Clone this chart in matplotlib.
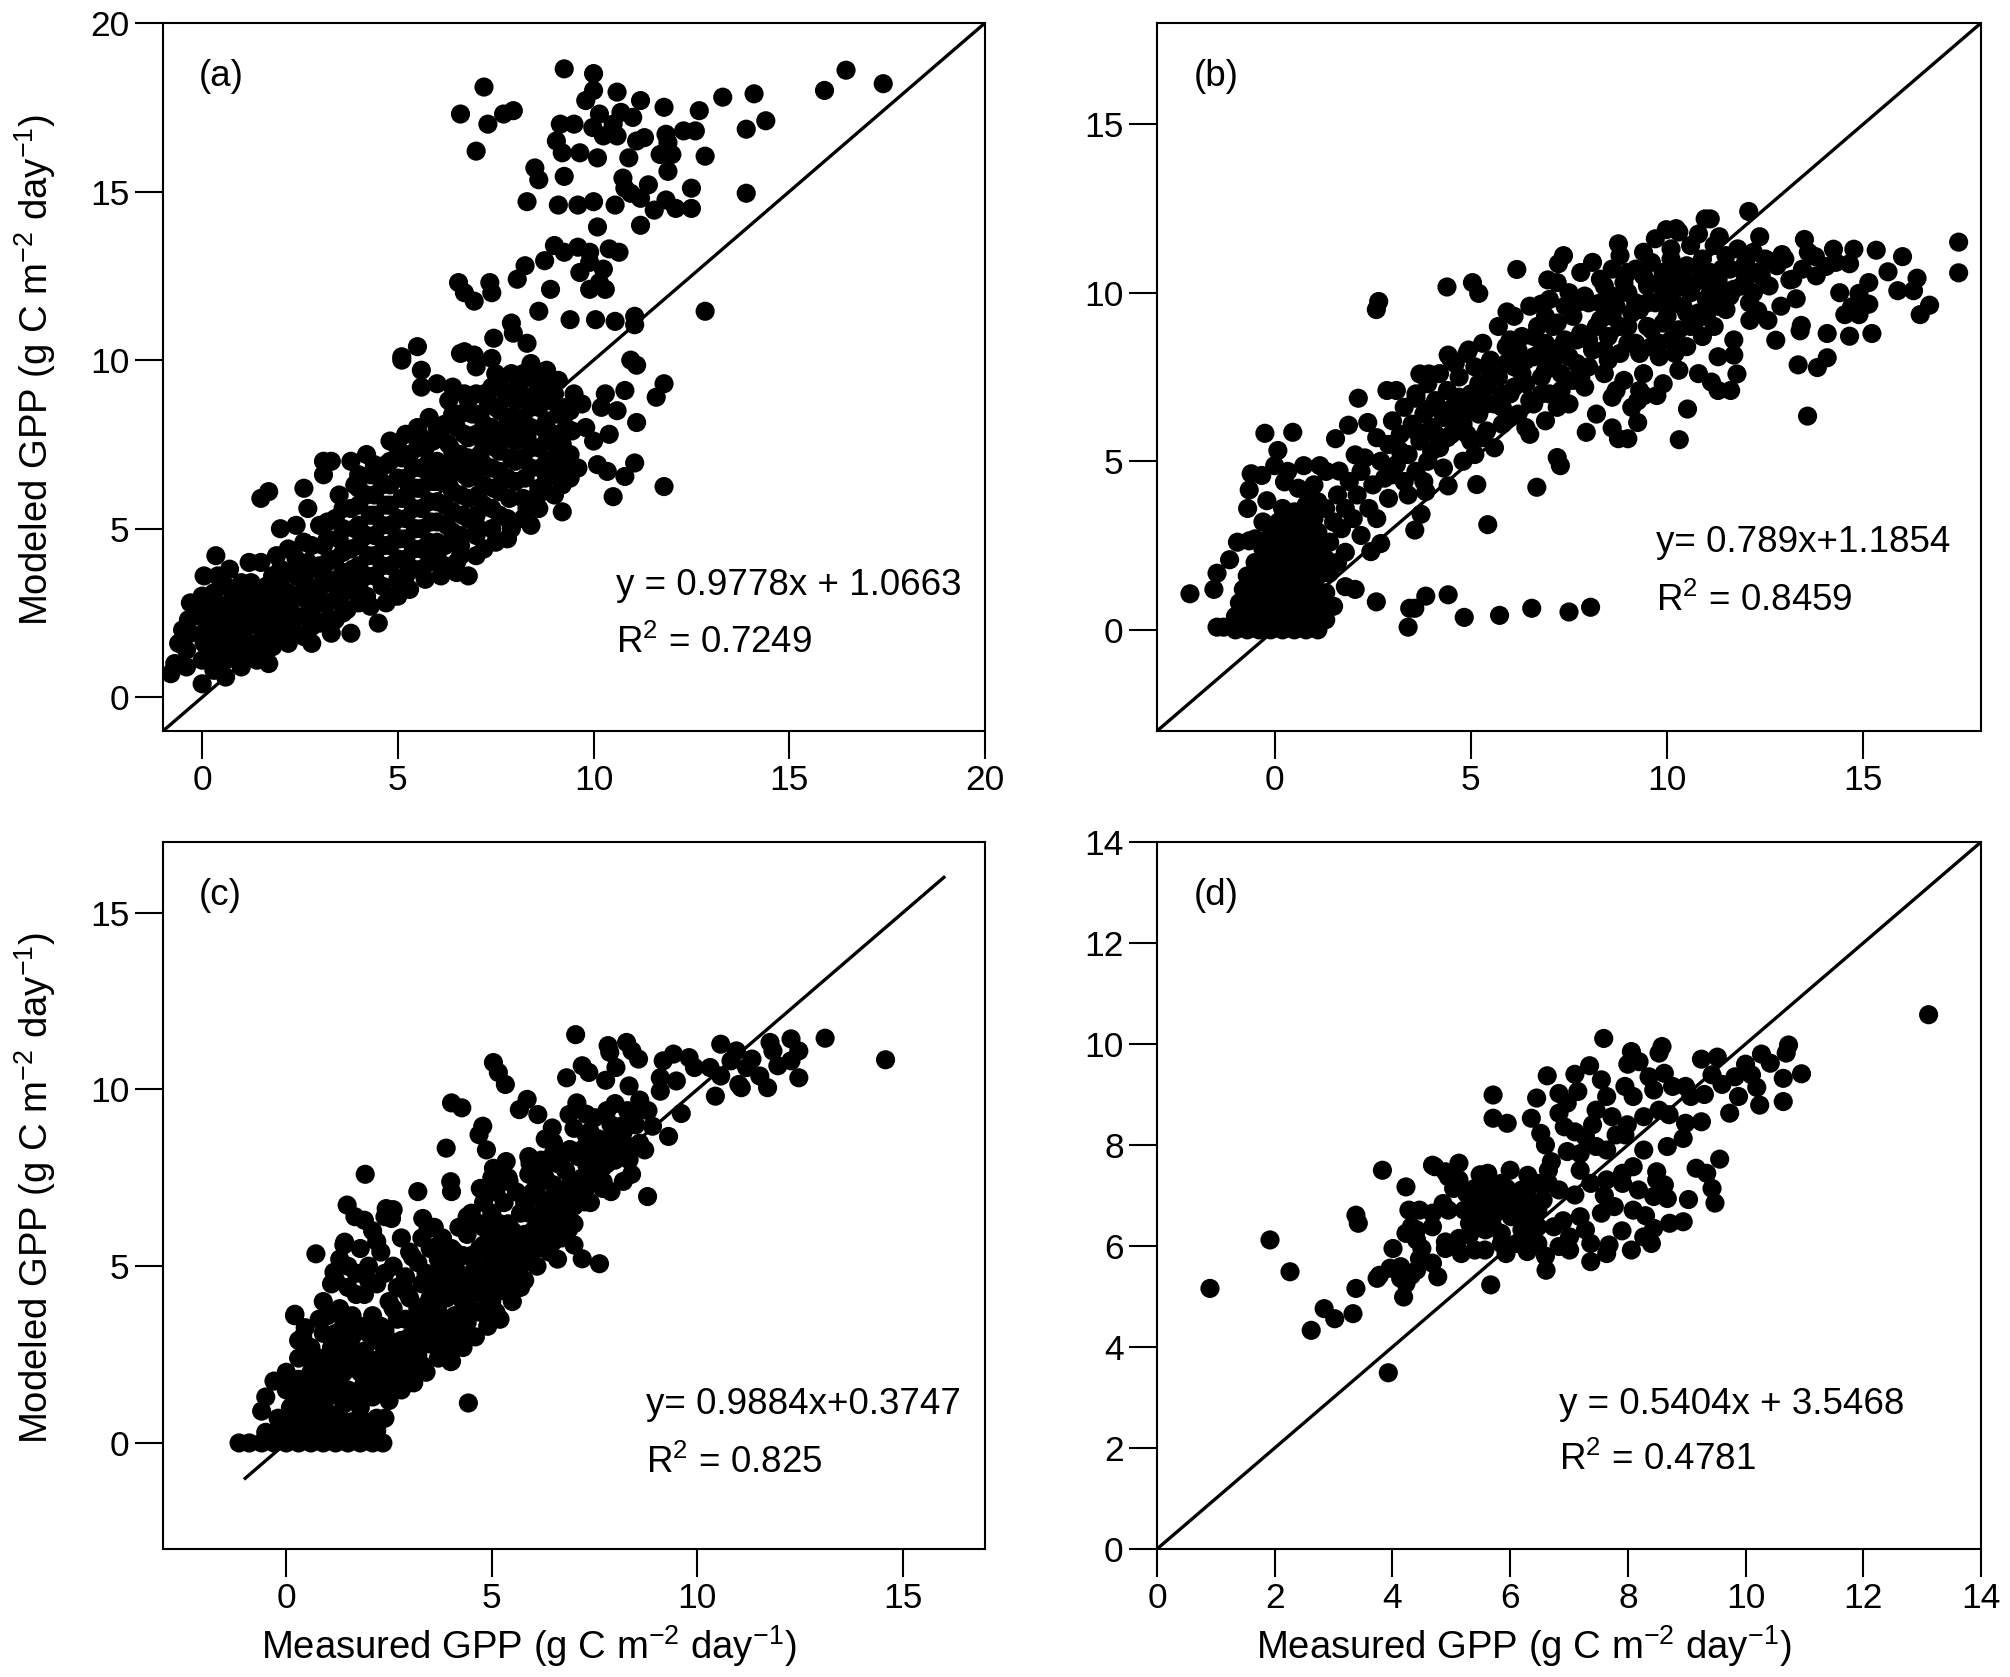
import numpy as np
import matplotlib
matplotlib.use("Agg")
from matplotlib import pyplot as plt

plt.rcParams['font.family'] = ['Liberation Sans', 'DejaVu Sans']
plt.rcParams['mathtext.fontset'] = 'custom'
plt.rcParams['mathtext.rm'] = 'Liberation Sans'
plt.rcParams['mathtext.it'] = 'Liberation Sans:italic'
plt.rcParams['mathtext.bf'] = 'Liberation Sans:bold'

# ---- panel (a): measured vs modeled GPP ----
pts_a = [
    # upper scatter
    (9.25, 18.64), (10.0, 18.5), (7.2, 18.1), (16.45, 18.6), (15.9, 18.0), (17.4, 18.2),
    (13.3, 17.8), (14.1, 17.9), (14.4, 17.1), (13.9, 16.85), (13.9, 14.95), (12.85, 11.45),
    (6.6, 17.3), (7.7, 17.3), (7.95, 17.4), (7.3, 17.0), (7.0, 16.2), (10.0, 18.0),
    (10.6, 17.95), (9.8, 17.7), (11.2, 17.7), (9.15, 17.0), (9.5, 17.0), (10.15, 17.3),
    (10.7, 17.35), (10.5, 17.0), (11.0, 17.2), (11.8, 17.5), (12.7, 17.4), (9.05, 16.5),
    (9.2, 16.15), (9.65, 16.15), (9.98, 16.9), (10.25, 16.65), (10.6, 16.65), (10.1, 16.0),
    (10.9, 16.0), (11.1, 16.5), (11.3, 16.6), (11.85, 16.7), (11.9, 16.45), (12.0, 16.1),
    (11.7, 16.1), (12.3, 16.8), (12.6, 16.8), (12.85, 16.05), (8.5, 15.7), (8.6, 15.35),
    (9.25, 15.45), (10.75, 15.4), (10.8, 15.1), (11.4, 15.2), (11.9, 15.6), (12.5, 15.1),
    (8.3, 14.7), (9.1, 14.6), (9.6, 14.6), (10.0, 14.7), (10.55, 14.6), (10.95, 14.95),
    (11.2, 14.8), (11.55, 14.45), (11.85, 14.75), (12.1, 14.5), (12.5, 14.5), (11.2, 14.0),
    (10.1, 13.95), (9.0, 13.4), (9.25, 13.2), (9.6, 13.35), (9.9, 13.2), (10.4, 13.3),
    (10.65, 13.2), (9.9, 12.9), (10.25, 12.7), (9.65, 12.6), (8.75, 12.95), (8.25, 12.8),
    (8.05, 12.4), (10.15, 12.3), (9.9, 12.1), (10.3, 12.1), (8.9, 12.1), (6.55, 12.3),
    (6.7, 12.0), (6.95, 11.75), (7.35, 12.3), (7.4, 12.0), (8.6, 11.45), (9.4, 11.2),
    (10.05, 11.2), (10.55, 11.15), (11.05, 11.3), (11.05, 11.05), (7.45, 10.65), (7.9, 11.1),
    (7.95, 10.8), (8.3, 10.5), (10.95, 10.0), (11.1, 9.85), (5.5, 10.4), (5.1, 10.1),
    (5.6, 9.7), (6.7, 10.25), (6.95, 10.15), (7.4, 10.05), (11.8, 9.3), (11.6, 8.9),
    (11.1, 8.15), (11.05, 6.95), (11.8, 6.25), (10.5, 5.95), (10.35, 6.7), (10.8, 6.55),
    (9.2, 5.5),
    # main band
    (-0.8, 0.7), (-0.7, 1.0), (-0.6, 1.6), (-0.5, 2.0), (-0.4, 0.9), (-0.4, 1.4),
    (-0.35, 2.3), (-0.3, 2.8), (-0.3, 1.9), (0.0, 0.4), (0.0, 1.1), (0.05, 1.6),
    (-0.05, 2.4), (0.0, 3.0), (0.05, 3.6), (0.1, 2.0), (0.3, 0.8), (0.3, 1.3),
    (0.35, 1.9), (0.3, 2.5), (0.3, 3.1), (0.35, 4.2), (0.4, 3.6), (0.6, 0.6),
    (0.6, 1.1), (0.65, 1.6), (0.6, 2.2), (0.7, 2.8), (0.6, 3.3), (0.7, 3.8),
    (1.0, 0.9), (1.0, 1.4), (1.05, 1.9), (1.0, 2.4), (1.1, 2.9), (1.0, 3.4),
    (1.2, 4.0), (1.4, 1.1), (1.4, 1.6), (1.45, 2.1), (1.4, 2.6), (1.5, 3.1),
    (1.5, 4.0), (1.5, 5.9), (1.7, 6.1), (1.7, 1.0), (1.8, 1.5), (1.85, 2.0),
    (1.8, 2.5), (1.9, 3.0), (1.8, 3.6), (1.9, 4.2), (2.0, 5.0), (2.2, 1.6),
    (2.2, 2.1), (2.25, 2.6), (2.2, 3.1), (2.3, 3.7), (2.2, 4.4), (2.4, 5.1),
    (2.6, 1.8), (2.6, 2.4), (2.65, 2.9), (2.6, 3.4), (2.7, 4.0), (2.6, 4.6),
    (2.6, 6.2), (2.7, 5.6), (2.8, 1.6), (3.0, 2.2), (3.0, 2.8), (3.05, 3.3),
    (3.0, 3.9), (3.1, 4.5), (3.0, 5.1), (3.1, 7.0), (3.3, 7.0), (3.1, 6.6),
    (3.4, 2.3), (3.4, 2.9), (3.45, 3.5), (3.4, 4.1), (3.5, 4.7), (3.4, 5.3),
    (3.5, 6.0), (3.3, 1.9), (3.7, 2.6), (3.8, 3.2), (3.85, 3.8), (3.8, 4.4),
    (3.9, 5.0), (3.8, 5.6), (3.9, 6.3), (3.8, 7.0), (3.8, 1.9), (4.2, 3.0),
    (4.2, 3.6), (4.25, 4.2), (4.2, 4.8), (4.3, 5.4), (4.2, 6.0), (4.3, 6.6),
    (4.2, 7.2), (4.5, 2.2), (4.3, 2.7), (4.6, 3.3), (4.6, 3.9), (4.65, 4.5),
    (4.6, 5.1), (4.7, 5.7), (4.6, 6.3), (4.7, 6.9), (4.8, 7.6), (4.7, 2.8),
    (5.0, 3.5), (5.0, 4.1), (5.05, 4.7), (5.0, 5.3), (5.1, 5.9), (5.0, 6.5),
    (5.1, 7.1), (5.2, 7.8), (5.1, 10.0), (5.0, 3.0), (5.4, 3.8), (5.4, 4.4),
    (5.45, 5.0), (5.4, 5.6), (5.5, 6.2), (5.4, 6.8), (5.5, 7.4), (5.5, 8.0),
    (5.6, 9.2), (5.8, 4.0), (5.8, 4.6), (5.85, 5.2), (5.8, 5.8), (5.9, 6.4),
    (5.8, 7.0), (5.9, 7.6), (5.8, 8.3), (6.0, 9.3), (6.2, 3.9), (6.2, 4.5),
    (6.25, 5.1), (6.2, 5.7), (6.3, 6.3), (6.2, 6.9), (6.3, 7.5), (6.2, 8.1),
    (6.3, 8.8), (6.4, 9.2), (6.6, 4.2), (6.6, 4.8), (6.65, 5.4), (6.6, 6.0),
    (6.7, 6.6), (6.6, 7.2), (6.7, 7.8), (6.6, 8.4), (6.7, 9.0), (6.6, 10.2),
    (6.8, 3.6), (6.5, 4.0), (7.0, 4.8), (7.0, 5.4), (7.05, 6.0), (7.0, 6.6),
    (7.1, 7.2), (7.0, 7.8), (7.1, 8.4), (7.0, 9.0), (7.0, 9.8), (7.2, 4.4),
    (7.4, 5.0), (7.4, 5.6), (7.45, 6.2), (7.4, 6.8), (7.5, 7.4), (7.4, 8.0),
    (7.5, 8.6), (7.4, 9.2), (7.5, 9.6), (7.8, 4.7), (7.8, 5.3), (7.85, 5.9),
    (7.8, 6.5), (7.9, 7.1), (7.8, 7.7), (7.9, 8.3), (7.8, 8.9), (7.9, 9.6),
    (8.2, 5.3), (8.2, 5.9), (8.25, 6.5), (8.2, 7.1), (8.3, 7.7), (8.2, 8.3),
    (8.3, 8.9), (8.4, 9.9), (8.4, 5.1), (8.6, 5.6), (8.6, 6.2), (8.65, 6.8),
    (8.6, 7.4), (8.7, 8.0), (8.6, 8.6), (8.7, 9.2), (8.8, 9.7), (9.0, 6.0),
    (9.0, 6.6), (9.05, 7.2), (9.0, 7.8), (9.1, 8.4), (9.0, 9.0), (9.2, 6.3),
    (9.1, 9.4), (9.4, 6.5), (9.4, 7.2), (9.45, 7.9), (9.4, 8.5), (9.5, 9.0),
    (9.8, 8.0), (10.0, 7.6), (10.2, 8.6), (10.3, 9.0), (10.1, 6.9), (10.6, 8.5),
    (10.8, 9.1), (9.7, 8.7), (10.4, 7.8), (9.6, 6.8),
    # solid core of the band
    (4.0, 3.3), (4.0, 3.9), (4.0, 4.5), (4.0, 5.1), (4.0, 5.7), (4.4, 3.6), (4.4, 4.2),
    (4.4, 4.8), (4.4, 5.4), (4.4, 6.0), (4.8, 3.9), (4.8, 4.5), (4.8, 5.1), (4.8, 5.7),
    (4.8, 6.3), (5.2, 4.1), (5.2, 4.7), (5.2, 5.3), (5.2, 5.9), (5.2, 6.5), (5.6, 4.4),
    (5.6, 5.0), (5.6, 5.6), (5.6, 6.2), (5.6, 6.8), (6.0, 4.6), (6.0, 5.2), (6.0, 5.8),
    (6.0, 6.4), (6.0, 7.0), (6.4, 4.9), (6.4, 5.5), (6.4, 6.1), (6.4, 6.7), (6.4, 7.3),
    (6.8, 5.3), (6.8, 5.9), (6.8, 6.5), (6.8, 7.1), (6.8, 7.7), (7.2, 5.7), (7.2, 6.3),
    (7.2, 6.9), (7.2, 7.5), (7.2, 8.1), (7.6, 6.1), (7.6, 6.7), (7.6, 7.3), (7.6, 7.9),
    (7.6, 8.5), (8.0, 6.4), (8.0, 7.0), (8.0, 7.6), (8.0, 8.2), (8.0, 8.8), (8.4, 6.8),
    (8.4, 7.4), (8.4, 8.0), (8.4, 8.6), (8.8, 7.0), (8.8, 7.6), (8.8, 8.2),
    (0.8, 1.3), (0.8, 1.9), (1.2, 1.6), (1.2, 2.2), (1.6, 1.9), (1.6, 2.5), (2.0, 2.2),
    (2.0, 2.8), (2.4, 2.4), (2.4, 3.0), (2.8, 2.6), (2.8, 3.2), (3.2, 2.8), (3.2, 3.4),
    (3.6, 3.1), (3.6, 3.7), (3.6, 4.3), (3.2, 4.0),
    (5.3, 7.2), (5.7, 7.4), (6.1, 7.7), (6.5, 8.0), (6.9, 8.4), (7.3, 8.8), (7.7, 9.1),
    (8.1, 9.3), (8.5, 9.4), (8.9, 8.8), (9.3, 8.0), (9.2, 7.5), (8.8, 6.5), (8.5, 5.9),
    (7.6, 5.4), (7.0, 5.1), (6.6, 4.5), (6.0, 4.2), (5.6, 3.8), (5.2, 3.6), (4.9, 3.0),
    (3.9, 3.5), (3.5, 3.2), (3.1, 3.6), (2.7, 3.3), (2.4, 3.6), (2.0, 3.3), (1.6, 3.0),
    (1.3, 2.9), (0.9, 2.6), (0.5, 2.4), (0.2, 2.2), (0.1, 2.7), (0.4, 1.6), (0.8, 1.6),
    (1.2, 1.3), (1.6, 1.4), (2.8, 4.5), (3.2, 4.7), (3.6, 5.0), (4.0, 6.2), (4.5, 6.6),
    (5.0, 7.4),
    (0.15, 1.3), (0.45, 1.1), (0.45, 2.7), (0.8, 2.2), (0.85, 3.2), (1.2, 2.6), (1.25, 3.4),
    (1.6, 2.2), (1.65, 3.3), (2.0, 1.8), (2.0, 3.8), (2.4, 1.9), (2.4, 4.1), (2.8, 2.1),
    (2.8, 3.8), (3.2, 2.3), (3.2, 5.2), (3.6, 2.5), (3.6, 5.6), (4.0, 2.8), (4.0, 6.6),
    (4.4, 6.9), (4.8, 7.0), (5.3, 3.2), (5.7, 3.5), (6.1, 3.6), (6.5, 3.7), (7.0, 4.2),
    (7.5, 4.6), (7.9, 5.0), (8.3, 5.6), (8.7, 6.1), (9.2, 6.9), (9.3, 8.6), (9.0, 9.4),
    (8.6, 9.0), (8.2, 9.6), (7.6, 9.2), (7.2, 9.0), (6.8, 8.8), (6.4, 8.4), (6.0, 8.0),
    (5.6, 7.7), (5.3, 6.2), (5.8, 6.6), (6.2, 6.6), (6.6, 6.9), (7.0, 7.0), (7.4, 7.6),
    (7.8, 8.1), (8.2, 7.9),
]

# ---- panel (b) ----
pts_b = [
    # edges and outliers
    (-2.16, 1.07), (-1.47, 0.08), (-1.3, 0.08), (-1.55, 1.2), (-1.47, 1.68), (-1.15, 2.08),
    (-0.95, 2.6), (-0.65, 2.64), (-0.69, 3.6), (-0.65, 4.15), (-0.6, 4.63), (-0.33, 4.58),
    (-0.25, 5.83), (0.46, 5.86), (0.08, 5.32), (0.25, 4.39), (0.33, 4.7), (-0.2, 3.83),
    (0.0, 4.87), (0.74, 4.87), (1.15, 4.87), (1.31, 4.7), (1.64, 4.71), (0.82, 4.1),
    (1.55, 5.67), (1.88, 6.07), (2.05, 5.19), (2.13, 6.87), (2.37, 6.15), (2.65, 9.74),
    (2.59, 9.5), (2.86, 7.1), (3.1, 7.1), (3.6, 6.87), (3.7, 7.59), (3.93, 7.59),
    (4.39, 10.17), (4.42, 8.15), (4.94, 8.3), (5.04, 10.3), (5.2, 9.98), (5.15, 4.31),
    (5.43, 3.12), (4.42, 4.27), (3.85, 4.1), (3.73, 3.43), (3.57, 2.96), (2.45, 2.32),
    (2.7, 2.56), (2.59, 0.83), (3.44, 0.64), (3.57, 0.64), (3.4, 0.08), (3.85, 1.0),
    (4.42, 1.04), (4.83, 0.37), (5.73, 0.43), (6.55, 0.64), (7.5, 0.53), (8.05, 0.67),
    (6.17, 10.69), (5.92, 9.43), (6.68, 4.23), (7.2, 5.11), (7.28, 4.87), (7.94, 5.86),
    (8.6, 5.99), (8.76, 5.67), (9.0, 5.67), (9.25, 6.15), (10.31, 5.64), (10.52, 6.55),
    (13.58, 6.34), (13.34, 7.86), (13.83, 7.78), (14.08, 8.07), (14.08, 8.79), (14.65, 8.71),
    (15.22, 8.79), (14.89, 9.35), (14.7, 9.58), (14.53, 9.35), (14.4, 10.0), (14.89, 9.98),
    (15.14, 9.66), (15.14, 10.3), (15.63, 10.62), (15.88, 10.06), (16.28, 10.06), (16.37, 10.43),
    (16.45, 9.35), (16.69, 9.63), (16.0, 11.07), (15.33, 11.26), (14.76, 11.29), (14.65, 10.86),
    (14.24, 11.29), (14.05, 10.78), (13.78, 11.07), (13.5, 11.58), (13.45, 10.7), (13.29, 9.82),
    (13.42, 9.03), (13.39, 8.87), (17.43, 11.5), (17.43, 10.59), (13.13, 10.38), (12.93, 11.13),
    (12.6, 10.94), (12.77, 8.59), (12.57, 9.18), (12.31, 9.46), (12.11, 9.18), (12.36, 11.66),
    (12.08, 12.41), (10.97, 12.19), (11.1, 12.19), (10.8, 11.74), (10.23, 11.9), (9.98, 11.87),
    (11.33, 11.66), (8.76, 11.45), (7.36, 11.1), (7.23, 10.86), (6.96, 10.38), (6.79, 9.66),
    (11.78, 7.59), (11.62, 7.1), (11.3, 7.1), (11.13, 7.35), (11.7, 8.15), (9.74, 6.95),
    (9.41, 6.95), (9.25, 6.79),
    # dense cluster near the origin
    (-1.0, 0.0), (-0.7, 0.0), (-0.4, 0.0), (-0.1, 0.0), (0.2, 0.0), (0.5, 0.0), (0.8, 0.0),
    (1.1, 0.0), (-1.0, 0.4), (-0.7, 0.35), (-0.4, 0.4), (-0.1, 0.35), (0.2, 0.4), (0.5, 0.35),
    (0.8, 0.4), (1.1, 0.35), (-0.9, 0.8), (-0.6, 0.75), (-0.3, 0.8), (0.0, 0.75), (0.3, 0.8),
    (0.6, 0.75), (0.9, 0.8), (1.2, 0.8), (-0.8, 1.2), (-0.5, 1.15), (-0.2, 1.2), (0.1, 1.15),
    (0.4, 1.2), (0.7, 1.15), (1.0, 1.2), (1.3, 1.1), (-0.7, 1.6), (-0.4, 1.55), (-0.1, 1.6),
    (0.2, 1.55), (0.5, 1.6), (0.8, 1.55), (1.1, 1.6), (-0.5, 2.0), (-0.2, 1.95), (0.1, 2.0),
    (0.4, 1.95), (0.7, 2.0), (1.0, 2.0), (1.3, 2.1), (-0.3, 2.4), (0.0, 2.35), (0.3, 2.4),
    (0.6, 2.35), (0.9, 2.4), (1.2, 2.5), (-0.1, 2.8), (0.2, 2.75), (0.5, 2.8), (0.8, 2.8),
    (1.1, 2.9), (0.1, 3.2), (0.4, 3.15), (0.7, 3.2), (1.0, 3.3), (1.3, 0.3), (1.5, 0.7),
    (1.8, 1.28), (2.05, 1.2), (1.39, 1.68), (0.9, 0.24), (1.6, 2.0),
    (0.2, 3.6), (0.5, 3.5), (0.8, 3.7), (1.1, 3.8), (0.6, 4.2), (1.0, 4.3), (-0.3, 3.2),
    (-0.5, 2.7),
    # main band
    (1.3, 3.6), (1.5, 3.2), (1.4, 2.6), (1.6, 4.0), (1.7, 3.0), (1.8, 3.6), (1.9, 4.4),
    (1.8, 2.3), (2.0, 3.3), (2.1, 4.0), (2.2, 4.7), (2.2, 2.8), (2.4, 3.6), (2.3, 5.1),
    (2.5, 4.3), (2.6, 3.3), (2.7, 5.0), (2.6, 5.7), (2.8, 4.5), (2.9, 5.5), (2.9, 3.9),
    (3.0, 6.2), (3.1, 4.9), (3.2, 5.8), (3.3, 4.4), (3.3, 6.6), (3.4, 5.2), (3.5, 6.1),
    (3.6, 4.7), (3.6, 7.0), (3.7, 5.6), (3.8, 6.4), (3.9, 5.0), (3.9, 7.3), (4.0, 6.0),
    (4.1, 6.8), (4.2, 5.4), (4.2, 7.6), (4.3, 6.3), (4.4, 7.1), (4.5, 5.8), (4.5, 8.0),
    (4.6, 6.7), (4.7, 7.5), (4.8, 6.1), (4.8, 5.0), (4.9, 8.2), (5.0, 7.0), (5.0, 5.6),
    (5.1, 7.8), (5.2, 6.4), (5.3, 8.5), (5.4, 7.2), (5.4, 5.9), (5.5, 8.0), (5.6, 6.7),
    (5.7, 9.0), (5.7, 7.5), (5.8, 6.1), (5.9, 8.4), (6.0, 7.0), (6.1, 9.3), (6.1, 7.8),
    (6.2, 6.4), (6.3, 8.7), (6.4, 7.3), (6.5, 9.6), (6.5, 5.8), (6.6, 8.1), (6.6, 6.7),
    (6.7, 9.0), (6.8, 7.5), (6.9, 8.5), (6.9, 6.2), (7.0, 9.8), (7.0, 7.0), (7.1, 8.0),
    (7.2, 10.3), (7.2, 9.1), (7.3, 7.6), (7.4, 8.6), (7.5, 6.7), (7.5, 10.0), (7.6, 9.3),
    (7.7, 7.9), (7.8, 10.6), (7.8, 8.8), (7.9, 7.2), (8.0, 9.7), (8.1, 8.3), (8.1, 10.9),
    (8.2, 6.4), (8.3, 9.2), (8.4, 10.2), (8.4, 7.6), (8.5, 8.7), (8.6, 10.7), (8.6, 6.9),
    (8.7, 9.6), (8.8, 8.2), (8.8, 11.1), (8.9, 7.4), (9.0, 10.0), (9.0, 9.0), (9.1, 6.6),
    (9.2, 10.7), (9.2, 8.5), (9.3, 9.5), (9.4, 11.2), (9.4, 7.6), (9.5, 10.2), (9.6, 8.9),
    (9.7, 11.6), (9.7, 9.7), (9.8, 8.1), (9.9, 10.6), (9.9, 7.3), (10.0, 9.3), (10.1, 11.0),
    (10.1, 8.6), (10.2, 10.1), (10.3, 11.8), (10.3, 7.7), (10.4, 9.6), (10.5, 10.8), (10.5, 8.4),
    (10.6, 11.4), (10.7, 9.1), (10.7, 10.3), (10.8, 7.6), (10.9, 11.0), (10.9, 8.7), (11.0, 9.8),
    (11.1, 10.6), (11.2, 11.4), (11.2, 9.0), (11.3, 8.1), (11.4, 10.1), (11.5, 11.1), (11.5, 9.5),
    (11.6, 10.7), (11.7, 8.6), (11.8, 11.3), (11.9, 10.2), (12.0, 10.9), (12.1, 9.7), (12.2, 11.2),
    (12.3, 10.6), (12.5, 11.0), (12.6, 10.2), (12.8, 10.8), (12.9, 9.6), (13.0, 11.0), (13.2, 10.4),
    (13.6, 11.2), (13.8, 10.5), (14.3, 10.9),
    # solid core of the band
    (3.0, 4.6), (3.2, 5.3), (3.4, 4.0), (3.6, 5.9), (3.8, 4.4), (4.0, 5.3), (4.0, 6.6),
    (4.3, 4.8), (4.4, 5.7), (4.6, 6.2), (4.6, 7.9), (4.9, 6.5), (5.1, 5.2), (5.2, 7.3),
    (5.4, 6.7), (5.6, 5.4), (5.8, 7.0), (5.9, 7.9), (6.0, 6.3), (6.2, 8.3), (6.3, 7.6),
    (6.4, 6.0), (6.6, 8.7), (6.8, 7.0), (6.9, 9.3), (7.0, 8.1), (7.2, 6.6), (7.3, 8.4),
    (7.4, 9.6), (7.6, 7.4), (7.7, 8.6), (7.9, 9.9), (8.0, 7.8), (8.2, 9.0), (8.3, 10.4),
    (8.5, 8.0), (8.6, 9.3), (8.7, 7.1), (8.9, 10.3), (9.0, 8.5), (9.2, 9.7), (9.3, 7.1),
    (9.5, 9.0), (9.6, 10.9), (9.8, 8.5), (9.9, 9.9), (10.1, 11.3), (10.2, 8.2), (10.4, 10.4),
    (10.6, 9.0), (10.8, 10.8), (11.0, 9.3), (11.3, 10.4), (11.6, 9.9), (11.9, 10.7), (12.2, 10.0),
    (12.4, 10.5), (10.0, 10.5), (9.4, 10.5),
    (4.1, 5.8), (4.4, 6.5), (4.7, 6.9), (4.9, 5.8), (5.2, 6.9), (5.3, 5.7), (5.5, 7.6),
    (5.8, 6.6), (6.0, 8.6), (6.1, 7.2), (6.4, 8.0), (6.5, 6.8), (6.8, 8.3), (6.9, 7.7),
    (7.1, 9.0), (7.3, 7.1), (7.5, 8.1), (7.7, 9.7), (7.8, 7.5), (8.0, 8.6), (8.3, 9.7),
    (8.4, 8.3), (8.6, 9.9), (8.8, 9.0), (9.0, 10.6), (9.1, 9.4), (9.3, 8.2), (9.5, 9.7),
    (9.6, 8.4), (9.8, 10.3), (9.9, 9.1), (10.1, 9.7), (10.2, 10.7), (10.3, 8.9), (10.5, 9.4),
    (10.6, 10.0), (10.8, 9.4), (10.9, 10.4), (11.1, 10.0), (11.4, 10.7), (11.3, 9.6), (11.7, 10.1),
    (12.0, 10.4),
]

# ---- panel (c) ----
pts_c = [
    # upper scatter
    (7.04, 11.55), (7.83, 11.24), (7.87, 11.05), (8.28, 11.33), (8.41, 11.09), (8.57, 10.86),
    (5.04, 10.76), (5.16, 10.48), (5.33, 10.14), (6.82, 10.33), (7.2, 10.67), (7.36, 10.48),
    (8.02, 10.62), (7.77, 10.26), (8.34, 10.1), (9.17, 10.81), (9.42, 11.0), (9.8, 10.9),
    (9.93, 10.62), (9.1, 10.33), (9.1, 9.95), (9.49, 10.24), (10.31, 10.62), (10.57, 11.28),
    (10.57, 10.38), (10.82, 10.81), (10.95, 11.09), (11.01, 10.14), (11.2, 10.62), (11.33, 10.86),
    (11.52, 10.38), (11.71, 10.05), (11.77, 11.33), (11.84, 11.09), (11.96, 10.67), (12.28, 11.43),
    (12.28, 10.81), (12.47, 11.09), (12.47, 10.33), (13.11, 11.45), (10.44, 9.81), (11.07, 10.05),
    (14.58, 10.84), (4.02, 9.62), (4.27, 9.48), (5.86, 9.72), (5.67, 9.43), (6.12, 9.29),
    (7.07, 9.62), (6.88, 9.29), (6.47, 8.91), (4.78, 8.96), (4.69, 8.72), (3.89, 8.34),
    (4.87, 8.29), (9.61, 9.32), (9.3, 8.67), (8.91, 8.96), (8.41, 9.24), (8.15, 8.96),
    (7.96, 8.67), (7.39, 8.81), (7.9, 8.53), (8.6, 8.48), (8.72, 8.29), (8.34, 8.01),
    (7.96, 8.25), (7.64, 8.15), (7.26, 8.25), (6.75, 8.15), (6.5, 8.2), (6.24, 7.87),
    (5.93, 7.91), (5.35, 7.96), (5.04, 7.77), (5.42, 7.39), (4.0, 7.39), (4.02, 7.11),
    (4.72, 7.2), (3.2, 7.11), (1.92, 7.6), (8.79, 6.97), (7.9, 7.11), (7.71, 7.39),
    (7.26, 7.11), (7.26, 6.82), (6.94, 6.25), (6.88, 6.06), (7.2, 5.21), (7.62, 5.07),
    (1.48, 6.73), (1.67, 6.4), (2.43, 6.63), (2.56, 6.35), (3.32, 6.35), (3.45, 6.06),
    (3.07, 5.26), (0.72, 5.35), (1.42, 5.68), (3.7, 5.59), (4.02, 5.5), (1.16, 4.83),
    (0.21, 3.64), (0.46, 3.26), (4.43, 1.13), (4.02, 2.31),
    # zero row and dense low cluster
    (-1.15, 0.0), (-0.9, 0.0), (-0.6, 0.0), (-0.3, 0.0), (0.0, 0.0), (0.3, 0.0), (0.6, 0.0),
    (0.9, 0.0), (1.2, 0.0), (1.5, 0.0), (1.8, 0.0), (2.1, 0.0), (2.35, 0.0), (-0.5, 0.3),
    (-0.2, 0.35), (0.1, 0.3), (0.4, 0.35), (0.7, 0.3), (1.0, 0.35), (1.3, 0.3), (1.6, 0.3),
    (1.9, 0.3), (2.2, 0.35), (-0.6, 0.9), (-0.5, 1.3), (-0.3, 1.75), (-0.2, 0.7), (0.1, 1.0),
    (0.0, 1.5), (0.3, 1.8), (0.2, 0.65), (0.5, 1.1), (0.4, 1.45), (0.6, 2.0), (0.5, 0.7),
    (0.8, 1.0), (0.7, 1.5), (0.9, 1.9), (0.8, 2.4), (1.1, 0.8), (1.0, 1.3), (1.2, 1.7),
    (1.1, 2.2), (1.2, 2.7), (1.4, 1.1), (1.5, 1.5), (1.4, 2.0), (1.5, 2.5), (1.6, 3.0),
    (1.8, 1.0), (1.7, 1.4), (1.8, 2.0), (1.9, 2.6), (1.8, 3.3), (2.1, 1.3), (2.2, 1.8),
    (2.0, 2.3), (2.2, 2.9), (2.1, 3.6), (2.4, 0.7), (2.5, 1.2), (2.4, 2.0), (2.5, 2.6),
    (2.4, 3.2), (2.6, 3.8), (0.3, 2.4), (0.4, 3.0), (0.2, 3.6), (0.6, 2.7), (0.9, 3.1),
    (0.9, 4.0), (1.1, 4.5), (1.0, 3.6), (1.3, 3.8), (1.2, 4.6), (1.3, 5.2), (1.5, 4.4),
    (1.4, 5.6), (1.6, 3.6), (1.7, 4.8), (1.8, 5.5), (1.9, 4.2), (2.0, 5.0), (2.1, 6.0),
    (2.2, 4.5), (2.3, 5.4), (2.4, 6.4), (2.6, 5.0), (2.6, 6.6), (2.7, 4.4), (2.8, 5.8),
    (0.1, 0.5), (0.4, 0.8), (0.7, 0.6), (1.0, 0.6), (1.3, 0.7), (1.6, 0.6), (1.9, 0.6),
    (2.2, 0.7), (0.3, 1.3), (0.6, 1.3), (0.9, 1.5), (1.3, 1.4), (1.6, 1.2), (1.9, 1.4),
    (2.3, 1.5), (0.5, 1.7), (1.0, 1.9), (1.3, 2.3), (1.7, 2.3), (2.0, 1.9), (2.3, 2.4),
    (1.5, 2.8), (2.0, 3.1), (2.3, 3.3), (1.4, 3.4), (1.1, 2.7), (0.7, 2.3),
    # main band
    (2.8, 1.5), (2.9, 2.2), (2.8, 2.9), (2.9, 3.5), (3.0, 4.1), (3.1, 1.7), (3.2, 2.5),
    (3.1, 3.1), (3.2, 3.8), (3.3, 4.5), (3.2, 5.1), (3.3, 5.8), (3.4, 2.0), (3.5, 2.8),
    (3.4, 3.4), (3.5, 4.1), (3.6, 4.8), (3.5, 5.5), (3.7, 2.4), (3.8, 3.1), (3.7, 3.7),
    (3.8, 4.4), (3.9, 5.0), (3.8, 5.8), (4.0, 2.3), (4.1, 3.0), (4.0, 3.5), (4.1, 4.2),
    (4.2, 4.8), (4.1, 5.4), (4.2, 6.1), (4.3, 2.7), (4.4, 3.4), (4.3, 4.0), (4.4, 4.6),
    (4.5, 5.3), (4.4, 5.9), (4.5, 6.5), (4.6, 3.0), (4.7, 3.7), (4.6, 4.3), (4.7, 4.9),
    (4.8, 5.6), (4.7, 6.2), (4.8, 6.8), (4.9, 3.3), (5.0, 4.0), (4.9, 4.6), (5.0, 5.2),
    (5.1, 5.9), (5.0, 6.5), (5.1, 7.1), (5.2, 3.5), (5.3, 4.3), (5.2, 4.9), (5.3, 5.5),
    (5.4, 6.2), (5.3, 6.8), (5.5, 4.0), (5.6, 4.7), (5.5, 5.3), (5.6, 5.9), (5.7, 6.5),
    (5.6, 7.1), (5.8, 4.6), (5.9, 5.3), (5.8, 5.9), (5.9, 6.5), (6.0, 7.1), (5.9, 7.6),
    (6.1, 5.0), (6.2, 5.7), (6.1, 6.3), (6.2, 6.9), (6.3, 7.5), (6.2, 8.0), (6.4, 5.4),
    (6.5, 6.1), (6.4, 6.7), (6.5, 7.3), (6.6, 7.9), (6.5, 8.5), (6.7, 5.8), (6.8, 6.5),
    (6.7, 7.1), (6.8, 7.7), (6.9, 8.3), (7.0, 8.9), (7.0, 6.2), (7.1, 6.9), (7.2, 7.5),
    (7.1, 8.1), (7.3, 8.7), (7.3, 9.3), (7.4, 7.4), (7.5, 8.0), (7.6, 8.6), (7.5, 9.2),
    (7.7, 7.8), (7.8, 8.4), (7.9, 9.0), (8.0, 9.6), (8.1, 8.2), (8.2, 8.8), (8.3, 9.4),
    (8.5, 9.0), (8.6, 9.7), (8.4, 7.6), (8.8, 9.4),
    (2.9, 4.7), (3.0, 5.4), (3.1, 2.6), (3.3, 3.0), (3.4, 4.8), (3.6, 3.3), (3.6, 6.1),
    (3.7, 5.2), (3.9, 2.7), (3.9, 4.1), (4.0, 4.7), (4.2, 3.4), (4.3, 5.3), (4.4, 6.4),
    (4.5, 3.8), (4.6, 5.0), (4.8, 4.2), (4.8, 6.1), (4.9, 5.4), (5.0, 7.5), (5.1, 3.7),
    (5.2, 6.2), (5.4, 4.6), (5.4, 7.5), (5.5, 5.7), (5.7, 4.4), (5.8, 6.8), (5.9, 8.1),
    (6.0, 5.6), (6.1, 7.3), (6.3, 6.0), (6.3, 8.6), (6.6, 6.6), (6.6, 5.2), (6.9, 7.3),
    (7.0, 5.6), (7.2, 8.3), (7.4, 6.8), (7.7, 7.2), (7.8, 9.4), (8.0, 8.0), (8.2, 7.4),
    (8.5, 8.4),
    (3.0, 3.0), (3.3, 3.5), (3.5, 3.7), (3.8, 3.5), (4.1, 3.6), (4.2, 4.4), (4.4, 4.0),
    (4.6, 4.7), (4.9, 4.2), (5.0, 4.8), (5.2, 5.6), (5.4, 5.1), (5.6, 5.3), (5.8, 5.6),
    (6.0, 6.0), (6.2, 6.4), (6.4, 6.4), (6.6, 7.0), (6.9, 7.0), (7.1, 7.4), (7.3, 7.9),
    (7.6, 8.3), (2.7, 3.5), (2.6, 2.3), (2.7, 1.9), (3.0, 2.5), (2.5, 4.0), (2.9, 4.3),
    (1.7, 4.2), (1.5, 5.0), (2.0, 4.6), (2.4, 4.8), (2.2, 5.7), (1.9, 6.3),
    (0.0, 2.0), (0.2, 1.2), (0.6, 2.4), (0.3, 2.9), (0.8, 3.5), (1.2, 3.1), (1.6, 2.6),
    (1.9, 1.8), (2.3, 2.0), (2.5, 2.9), (2.6, 1.6), (2.8, 2.4), (3.1, 2.0), (3.3, 2.2),
    (3.4, 3.9), (3.6, 4.4), (3.9, 3.3), (4.1, 4.9), (4.3, 3.2), (4.5, 4.4), (4.7, 5.5),
    (4.9, 4.9), (5.1, 4.5), (5.3, 5.0), (5.5, 6.0), (5.7, 5.0), (5.9, 5.9), (6.1, 5.5),
    (6.3, 6.6), (6.5, 5.7), (6.7, 6.3), (7.0, 6.7), (7.2, 7.1), (7.5, 7.7), (7.8, 7.9),
    (8.2, 8.5),
]

# ---- panel (d) ----
pts_d = [
    (13.11, 10.58), (7.59, 10.11), (8.58, 9.95), (8.53, 9.82), (8.06, 9.85), (8.19, 9.65),
    (7.35, 9.57), (10.73, 9.98), (10.69, 9.82), (10.42, 9.62), (10.27, 9.8), (10.95, 9.41),
    (10.64, 9.32), (10.64, 8.86), (10.24, 8.79), (10.19, 9.14), (10.1, 9.39), (9.82, 9.35),
    (9.88, 8.96), (9.73, 8.63), (9.52, 9.74), (9.25, 9.7), (9.43, 9.39), (9.25, 8.46),
    (8.98, 8.43), (8.94, 8.13), (8.67, 7.97), (9.56, 7.72), (9.16, 7.54), (9.34, 7.44),
    (9.43, 7.14), (9.48, 6.85), (9.03, 6.92), (8.94, 6.48), (8.71, 6.45), (8.44, 6.35),
    (8.27, 6.18), (8.4, 6.05), (8.06, 5.92), (7.68, 6.02), (7.64, 5.85), (7.37, 5.69),
    (6.61, 5.52), (5.67, 5.23), (6.63, 9.37), (5.71, 8.99), (5.71, 8.53), (5.95, 8.43),
    (6.45, 8.93), (6.36, 8.53), (6.52, 8.23), (6.83, 9.02), (6.97, 8.83), (7.15, 9.06),
    (7.55, 9.29), (7.64, 8.96), (7.95, 9.16), (8.09, 8.96), (8.36, 9.35), (8.62, 9.42),
    (8.76, 9.16), (8.98, 9.16), (9.07, 8.96), (6.83, 8.63), (6.92, 8.36), (7.1, 8.26),
    (7.28, 8.16), (7.46, 7.97), (7.64, 7.9), (7.46, 8.69), (7.73, 8.56), (7.99, 8.4),
    (8.27, 8.56), (7.95, 8.2), (8.27, 7.9), (8.53, 8.69), (8.44, 9.09), (6.97, 7.87),
    (7.19, 7.83), (6.7, 7.67), (6.65, 7.5), (7.19, 7.5), (6.65, 7.24), (6.47, 7.24),
    (6.83, 7.11), (7.1, 7.01), (7.37, 7.24), (7.64, 7.31), (7.91, 7.44), (8.09, 7.57),
    (8.49, 7.47), (7.91, 7.24), (8.18, 7.11), (8.44, 6.98), (8.67, 6.94), (8.09, 6.71),
    (7.77, 6.78), (7.55, 6.65), (7.19, 6.58), (7.28, 6.32), (7.01, 6.18), (7.37, 6.05),
    (6.83, 5.99), (7.01, 5.92), (6.47, 6.05), (6.29, 5.89), (6.11, 6.05), (5.85, 6.05),
    (5.93, 5.85), (5.57, 5.92), (5.4, 5.92), (5.17, 5.85), (4.9, 5.95), (4.9, 6.08),
    (5.13, 6.15), (5.31, 6.22), (5.58, 6.32), (5.85, 6.25), (6.2, 6.32), (6.47, 6.38),
    (6.74, 6.38), (6.29, 6.58), (6.02, 6.58), (5.75, 6.65), (5.49, 6.61), (5.31, 6.45),
    (5.22, 6.71), (5.4, 6.84), (5.67, 6.78), (5.94, 6.84), (6.2, 6.78), (6.47, 6.71),
    (6.56, 6.91), (6.29, 6.98), (6.02, 6.98), (5.75, 6.98), (5.49, 7.01), (5.26, 7.04),
    (5.04, 7.14), (5.13, 7.31), (5.4, 7.14), (5.67, 7.14), (5.94, 7.14), (6.2, 7.11),
    (5.85, 7.24), (5.58, 7.34), (5.49, 7.41), (5.62, 7.44), (4.95, 7.37), (4.9, 7.47),
    (4.72, 7.57), (5.13, 7.64), (4.86, 6.84), (4.95, 6.71), (4.68, 6.38), (4.68, 6.65),
    (4.41, 6.32), (4.28, 6.71), (4.46, 6.71), (4.23, 7.17), (4.32, 6.38), (4.41, 6.12),
    (4.5, 5.95), (4.46, 5.75), (4.23, 6.25), (4.68, 5.66), (4.77, 5.39), (4.41, 5.52),
    (4.32, 5.42), (4.14, 5.59), (4.01, 5.95), (3.96, 5.56), (3.78, 5.42), (3.74, 5.36),
    (4.14, 5.36), (4.23, 5.26), (4.19, 4.99), (3.38, 5.16), (3.38, 6.61), (3.42, 6.45),
    (3.83, 7.5), (4.68, 7.6), (2.84, 4.76), (3.02, 4.56), (3.33, 4.66), (2.62, 4.33),
    (2.26, 5.49), (1.92, 6.12), (0.9, 5.16), (3.93, 3.49), (8.62, 7.21), (8.49, 7.31),
    (6.0, 7.5), (6.3, 7.4), (6.9, 6.5), (7.6, 7.0), (7.9, 6.3), (8.3, 6.6),
    (6.6, 5.8), (6.3, 6.2), (5.7, 6.4), (7.4, 8.4), (7.8, 8.2), (8.7, 8.6),
    (9.3, 9.0), (9.6, 9.2), (10.0, 9.6), (7.1, 9.4), (8.0, 9.6), (6.6, 8.0),
]

panels = [
    dict(pts=pts_a, lim=(-1, 20), ticks=[0, 5, 10, 15, 20], line=(-1, 20), tag='(a)',
         eq='y = 0.9778x + 1.0663', r2='R$^{2}$ = 0.7249', eqx=0.551, eqy=0.205, r2y=0.125),
    dict(pts=pts_b, lim=(-3, 18), ticks=[0, 5, 10, 15], line=(-3, 18), tag='(b)',
         eq='y= 0.789x+1.1854', r2='R$^{2}$ = 0.8459', eqx=0.605, eqy=0.266, r2y=0.184),
    dict(pts=pts_c, lim=(-3, 17), ticks=[0, 5, 10, 15], line=(-1, 16), tag='(c)',
         eq='y= 0.9884x+0.3747', r2='R$^{2}$ = 0.825', eqx=0.587, eqy=0.205, r2y=0.122),
    dict(pts=pts_d, lim=(0, 14), ticks=[0, 2, 4, 6, 8, 10, 12, 14], line=(0, 14), tag='(d)',
         eq='y = 0.5404x + 3.5468', r2='R$^{2}$ = 0.4781', eqx=0.488, eqy=0.205, r2y=0.126),
]

W, H = 2010, 1677
boxes = [(163, 23, 985, 731), (1157, 23, 1981, 731),
         (163, 842, 985, 1549), (1157, 842, 1981, 1549)]

fig = plt.figure(figsize=(W / 100, H / 100), dpi=100)
ylab = 'Modeled GPP (g C m$^{-2}$ day$^{-1}$)'
xlab = 'Measured GPP (g C m$^{-2}$ day$^{-1}$)'

for i, (p, b) in enumerate(zip(panels, boxes)):
    l, t, r, bt = b
    ax = fig.add_axes([l / W, 1 - bt / H, (r - l) / W, (bt - t) / H])
    xs, ys = zip(*p['pts'])
    ax.plot(p['line'], p['line'], color='black', lw=2.4, zorder=1)
    ax.scatter(xs, ys, s=190, color='black', edgecolors='none', zorder=2)
    ax.set_xlim(p['lim'])
    ax.set_ylim(p['lim'])
    ax.set_xticks(p['ticks'])
    ax.set_yticks(p['ticks'])
    ax.tick_params(direction='out', length=20, width=1.5, labelsize=25.5, pad=4,
                   top=False, right=False)
    for s in ax.spines.values():
        s.set_linewidth(1.5)
    ax.text(0.044, 0.925, p['tag'], transform=ax.transAxes, fontsize=26.5,
            ha='left', va='center')
    ax.text(p['eqx'], p['eqy'], p['eq'], transform=ax.transAxes, fontsize=26.5,
            ha='left', va='center')
    ax.text(p['eqx'], p['r2y'], p['r2'], transform=ax.transAxes, fontsize=26.5,
            ha='left', va='center')
    if i in (0, 2):
        ax.set_ylabel(ylab, fontsize=27.5)
        ax.yaxis.set_label_coords(-0.128, 0.51)
    if i in (2, 3):
        ax.set_xlabel(xlab, fontsize=27.5)
        ax.xaxis.set_label_coords(0.445, -0.105)

fig.savefig('out.png', dpi=100)
